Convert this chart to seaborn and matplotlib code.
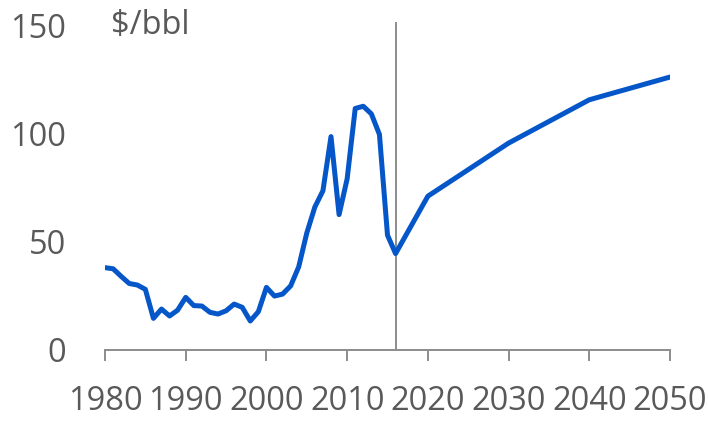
import matplotlib
matplotlib.use("Agg")
import matplotlib.pyplot as plt
import seaborn as sns
import pandas as pd

years = [1980, 1981, 1982, 1983, 1984, 1985, 1986, 1987, 1988, 1989,
         1990, 1991, 1992, 1993, 1994, 1995, 1996, 1997, 1998, 1999,
         2000, 2001, 2002, 2003, 2004, 2005, 2006, 2007, 2008, 2009,
         2010, 2011, 2012, 2013, 2014, 2015, 2016,
         2020, 2030, 2040, 2050]
prices = [38.0, 37.5, 34.0, 30.7, 30.0, 28.0, 14.6, 18.9, 15.7, 18.4,
          24.3, 20.5, 20.3, 17.4, 16.6, 18.1, 21.2, 19.7, 13.4, 17.7,
          28.9, 24.9, 25.8, 29.6, 38.4, 54.0, 66.0, 73.5, 98.5, 62.5,
          79.0, 111.5, 112.5, 109.0, 99.5, 53.0, 44.5,
          71.0, 95.5, 115.5, 126.0]
x_ticks = [1980, 1990, 2000, 2010, 2020, 2030, 2040, 2050]
y_ticks = [0, 50, 100, 150]
divider_year = 2016
unit_label = "$/bbl"

df = pd.DataFrame({"year": years, "price": prices})

sns.set_theme(style="white")
plt.rcParams['font.family'] = ['Open Sans', 'DejaVu Sans']

fig = plt.figure(figsize=(7.08, 4.21), dpi=100)
ax = fig.add_axes([105/708, 1 - 350/421, 565/708, 328/421])

ax.axvline(divider_year, color="#8c8c8c", lw=1.4, zorder=1)
sns.lineplot(data=df, x="year", y="price", ax=ax, color="#0556c8",
             lw=3.6, zorder=3)

ax.set_xlim(1980, 2050)
ax.set_ylim(0, 151.4)
ax.set_xticks(x_ticks)
ax.set_yticks(y_ticks)
ax.set_xlabel("")
ax.set_ylabel("")

for s in ["top", "right", "left"]:
    ax.spines[s].set_visible(False)
ax.spines["bottom"].set_color("#8c8c8c")
ax.spines["bottom"].set_linewidth(1.4)

ax.tick_params(axis="x", bottom=True, length=8, width=1.4, color="#8c8c8c",
               labelsize=23.5, labelcolor="#595959", pad=17, direction="out")
ax.tick_params(axis="y", left=False, length=0, labelsize=23.5,
               labelcolor="#595959", pad=28)

ax.text(1980.8, 150, unit_label, fontsize=23.5, color="#595959",
        ha="left", va="center")

fig.savefig("out.png", dpi=100)
